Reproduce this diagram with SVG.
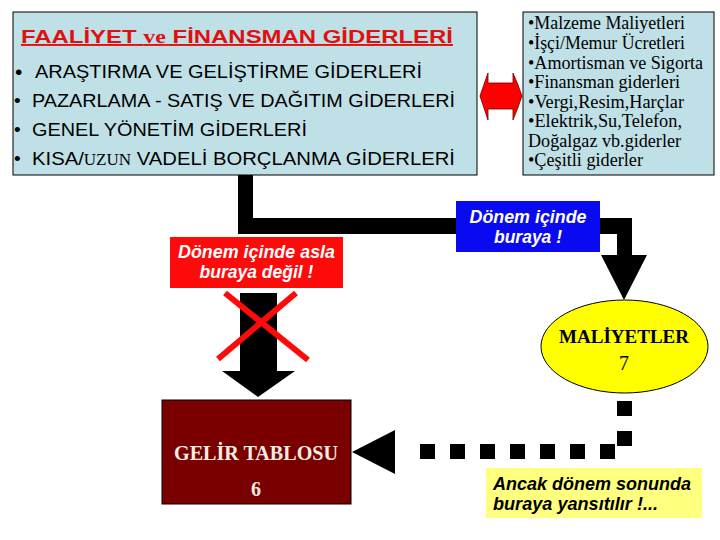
<svg xmlns="http://www.w3.org/2000/svg" width="720" height="540" viewBox="0 0 720 540">
<style>
.box{fill:#bfe0e6;stroke:#000;stroke-width:1}
.sans{font-family:"Liberation Sans",Arial,sans-serif}
.serif{font-family:"Liberation Serif","Times New Roman",serif}
.bul{font-size:19px;fill:#000}
.rt{font-size:18px;fill:#000}
.lbl{font-family:"Liberation Sans",Arial,sans-serif;font-size:17.5px;font-weight:bold;font-style:italic}
.blk{fill:#000}
.sq{fill:#000}
</style>
<rect width="720" height="540" fill="#fff"/>

<g id="connectors">
  <polygon class="blk" points="238,175 253,175 253,218 632,218 632,255 647,255 624,300 601,255 617,255 617,234 238,234"/>
  <polygon class="blk" points="240,293 277,293 277,371 295,371 258,397 222,371 240,371"/>
  <g id="cross" stroke="#ff0a0a" stroke-width="6">
    <line x1="225" y1="293" x2="308" y2="360"/>
    <line x1="296" y1="293" x2="218" y2="359"/>
  </g>
  <g id="dotted">
    <rect class="sq" x="420" y="444" width="15" height="15"/>
    <rect class="sq" x="450" y="444" width="15" height="15"/>
    <rect class="sq" x="480" y="444" width="15" height="15"/>
    <rect class="sq" x="510" y="444" width="15" height="15"/>
    <rect class="sq" x="540" y="444" width="15" height="15"/>
    <rect class="sq" x="570" y="444" width="15" height="15"/>
    <rect class="sq" x="600" y="444" width="15" height="15"/>
    <rect class="sq" x="617" y="431" width="15" height="15"/>
    <rect class="sq" x="617" y="401" width="15" height="15"/>
    <polygon class="blk" points="352,452 395,430 395,474"/>
  </g>
  <path id="double-arrow" d="M488,73 L488,83 L513,83 L513,73 Q518,84 522,96 Q518,108 513,120 L513,109 L488,109 L488,120 Q484,108 480,96 Q484,84 488,73 Z" fill="#ff0000" stroke="#600" stroke-width="0.8"/>
</g>

<g id="activity-box">
  <rect class="box" x="13" y="12" width="464" height="163"/>
  <text x="21" y="43" class="sans" font-size="19" font-weight="bold" fill="#e01010" text-decoration="underline" textLength="432" lengthAdjust="spacingAndGlyphs">FAALİYET <tspan class="serif">ve</tspan> FİNANSMAN GİDERLERİ</text>
  <text x="15" y="79" class="sans" font-size="21">•</text>
  <text x="35" y="78" class="sans bul" font-size="20" textLength="387" lengthAdjust="spacingAndGlyphs">ARAŞTIRMA VE GELİŞTİRME GİDERLERİ</text>
  <text x="14" y="107" class="sans bul">•</text>
  <text x="32" y="107" class="sans bul" textLength="423" lengthAdjust="spacingAndGlyphs">PAZARLAMA - SATIŞ VE DAĞITIM GİDERLERİ</text>
  <text x="14" y="136" class="sans bul">•</text>
  <text x="32" y="136" class="sans bul" textLength="275" lengthAdjust="spacingAndGlyphs">GENEL YÖNETİM GİDERLERİ</text>
  <text x="14" y="165" class="sans bul">•</text>
  <text x="32" y="165" class="sans bul" textLength="423" lengthAdjust="spacingAndGlyphs">KISA/<tspan class="serif" font-size="16">UZUN</tspan> VADELİ BORÇLANMA GİDERLERİ</text>
</g>

<g id="cost-list-box">
  <rect class="box" x="523" y="12" width="191" height="163"/>
  <g class="serif rt">
    <text x="528" y="29" textLength="157" lengthAdjust="spacingAndGlyphs">•Malzeme Maliyetleri</text>
    <text x="528" y="49" textLength="157" lengthAdjust="spacingAndGlyphs">•İşçi/Memur Ücretleri</text>
    <text x="528" y="69" textLength="175" lengthAdjust="spacingAndGlyphs">•Amortisman ve Sigorta</text>
    <text x="528" y="88" textLength="152" lengthAdjust="spacingAndGlyphs">•Finansman giderleri</text>
    <text x="528" y="108" textLength="156" lengthAdjust="spacingAndGlyphs">•Vergi,Resim,Harçlar</text>
    <text x="528" y="127" textLength="154" lengthAdjust="spacingAndGlyphs">•Elektrik,Su,Telefon,</text>
    <text x="528" y="147" textLength="153" lengthAdjust="spacingAndGlyphs">Doğalgaz vb.giderler</text>
    <text x="528" y="166" textLength="115" lengthAdjust="spacingAndGlyphs">•Çeşitli giderler</text>
  </g>
</g>

<g id="label-yes">
  <rect x="456" y="201" width="144" height="51" fill="#0a0af0"/>
  <text class="lbl" fill="#fff" text-anchor="middle" x="528" y="223" textLength="117" lengthAdjust="spacingAndGlyphs">Dönem içinde</text>
  <text class="lbl" fill="#fff" text-anchor="middle" x="528" y="243">buraya !</text>
</g>

<g id="label-no">
  <rect x="170" y="237" width="173" height="51" fill="#ff0a0a"/>
  <text class="lbl" fill="#fff" text-anchor="middle" x="256.5" y="258" textLength="157" lengthAdjust="spacingAndGlyphs">Dönem içinde asla</text>
  <text class="lbl" fill="#fff" text-anchor="middle" x="256.5" y="278">buraya değil !</text>
</g>

<g id="maliyetler">
  <ellipse cx="624.5" cy="346.5" rx="83.5" ry="46.5" fill="#ffff00" stroke="#000" stroke-width="1"/>
  <text class="serif" font-size="19" font-weight="bold" text-anchor="middle" x="624" y="343" textLength="130" lengthAdjust="spacingAndGlyphs">MALİYETLER</text>
  <text class="serif" font-size="20" text-anchor="middle" x="624" y="370">7</text>
</g>

<g id="gelir-tablosu">
  <rect x="162" y="400" width="189" height="104" fill="#7a0000" stroke="#000" stroke-width="1"/>
  <text class="serif" font-size="20" font-weight="bold" fill="#f5ede2" text-anchor="middle" x="256" y="460" textLength="164" lengthAdjust="spacingAndGlyphs">GELİR TABLOSU</text>
  <text class="serif" font-size="20" font-weight="bold" fill="#f5ede2" text-anchor="middle" x="256" y="496">6</text>
</g>

<g id="label-end">
  <rect x="486" y="468" width="216" height="50" fill="#ffff80"/>
  <text class="lbl" fill="#000" x="493" y="490" textLength="198" lengthAdjust="spacingAndGlyphs">Ancak dönem sonunda</text>
  <text class="lbl" fill="#000" x="493" y="510" textLength="165" lengthAdjust="spacingAndGlyphs">buraya yansıtılır !...</text>
</g>
</svg>
